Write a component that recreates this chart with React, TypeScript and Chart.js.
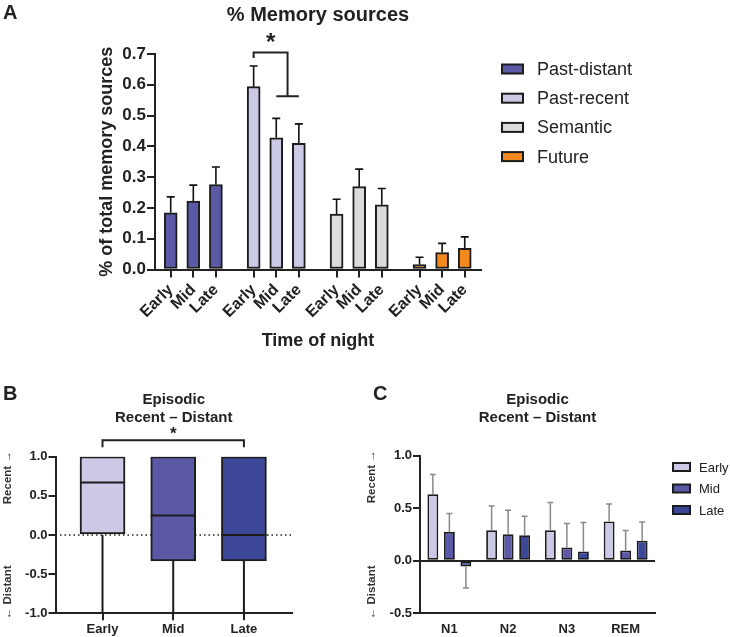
import React, { useEffect, useRef } from 'react';
import { Chart, registerables } from 'chart.js';

Chart.register(...registerables);

const FONT = "'Liberation Sans', Arial, Helvetica, sans-serif";
const INK = '#222222';
const EDGE = '#1c1c1c';

// ---------- Panel A: % Memory sources ----------
const timeLabels = ['Early', 'Mid', 'Late'];
const sourceNames = ['Past-distant', 'Past-recent', 'Semantic', 'Future'];
const pastDistant = [0.184, 0.222, 0.276];
const pastDistantErr = [0.052, 0.052, 0.057];
const pastRecent = [0.594, 0.428, 0.41];
const pastRecentErr = [0.067, 0.063, 0.063];
const semantic = [0.18, 0.269, 0.21];
const semanticErr = [0.048, 0.057, 0.053];
const future = [0.016, 0.055, 0.069];
const futureErr = [0.024, 0.03, 0.037];
const sourceColors = ['#5b58a6', '#ccc9e7', '#dcdcdc', '#f5891f'];
const groupSpacing = 3.67;

// ---------- Panel B: box plot ----------
const boxGroups = ['Early', 'Mid', 'Late'];
const boxMin = [-1, -1, -1];
const boxQ1 = [0, -0.33, -0.33];
const boxMedian = [0.67, 0.25, 0];
const boxQ3 = [1, 1, 1];
const boxMax = [1, 1, 1];
const timeColors = ['#ccc9e7', '#5b58a6', '#3c4797'];

// ---------- Panel C: sleep stages ----------
const stages = ['N1', 'N2', 'N3', 'REM'];
const stageEarly = [0.633, 0.291, 0.291, 0.374];
const stageEarlyErr = [0.187, 0.231, 0.263, 0.167];
const stageMid = [0.275, 0.253, 0.127, 0.098];
const stageMidErr = [0.175, 0.228, 0.228, 0.19];
const stageLate = [-0.055, 0.244, 0.089, 0.19];
const stageLateErr = [0.205, 0.18, 0.275, 0.18];

const font = (size: number, weight: string = 'bold') => ({ family: FONT, size, weight });

function centeredGlyph(ctx: CanvasRenderingContext2D, text: string, cx: number, cy: number, f: string) {
  ctx.save();
  ctx.font = f;
  ctx.fillStyle = INK;
  ctx.textAlign = 'center';
  ctx.textBaseline = 'alphabetic';
  const m = ctx.measureText(text);
  const base = cy + (m.actualBoundingBoxAscent - m.actualBoundingBoxDescent) / 2;
  ctx.fillText(text, cx, base);
  ctx.restore();
}

function letter(ctx: CanvasRenderingContext2D, text: string, x: number, baseline: number) {
  ctx.save();
  ctx.font = `bold 20px ${FONT}`;
  ctx.fillStyle = INK;
  ctx.textAlign = 'left';
  ctx.textBaseline = 'alphabetic';
  ctx.fillText(text, x, baseline);
  ctx.restore();
}

function rotatedText(ctx: CanvasRenderingContext2D, text: string, x: number, y: number, f: string, color: string) {
  ctx.save();
  ctx.translate(x, y);
  ctx.rotate(-Math.PI / 2);
  ctx.font = f;
  ctx.fillStyle = color;
  ctx.textAlign = 'center';
  ctx.textBaseline = 'middle';
  ctx.fillText(text, 0, 0);
  ctx.restore();
}

const errorBarPlugin = {
  id: 'errorBars',
  afterDatasetsDraw(chart: any) {
    const ctx = chart.ctx as CanvasRenderingContext2D;
    const yScale = chart.scales.y;
    chart.data.datasets.forEach((ds: any, di: number) => {
      const errs = ds.errors;
      if (!errs) return;
      const meta = chart.getDatasetMeta(di);
      meta.data.forEach((el: any, i: number) => {
        const raw = ds.data[i];
        const v = typeof raw === 'number' ? raw : raw.y;
        const e = errs[i];
        const end = v >= 0 ? v + e : v - e;
        const py = yScale.getPixelForValue(end);
        const cap = ds.errorCap;
        ctx.save();
        ctx.strokeStyle = ds.errorColor;
        ctx.lineWidth = ds.errorWidth;
        ctx.beginPath();
        ctx.moveTo(el.x, el.y);
        ctx.lineTo(el.x, py);
        ctx.moveTo(el.x - cap / 2, py);
        ctx.lineTo(el.x + cap / 2, py);
        ctx.stroke();
        ctx.restore();
      });
    });
  },
};

function drawLegend(chart: any, x0: number, y0: number, step: number, bw: number, bh: number, textGap: number, f: string) {
  const ctx = chart.ctx as CanvasRenderingContext2D;
  chart.data.datasets.forEach((ds: any, i: number) => {
    const cy = y0 + i * step;
    ctx.save();
    ctx.fillStyle = ds.backgroundColor;
    ctx.fillRect(x0, cy - bh / 2, bw, bh);
    ctx.strokeStyle = EDGE;
    ctx.lineWidth = 2;
    ctx.strokeRect(x0, cy - bh / 2, bw, bh);
    ctx.font = f;
    ctx.fillStyle = INK;
    ctx.textAlign = 'left';
    ctx.textBaseline = 'middle';
    ctx.fillText(ds.label, x0 + bw + textGap, cy + 1);
    ctx.restore();
  });
}

function makeChartA(canvas: HTMLCanvasElement) {
  const series = [pastDistant, pastRecent, semantic, future];
  const errs = [pastDistantErr, pastRecentErr, semanticErr, futureErr];
  const xs: number[] = [];
  const xl: string[] = [];
  sourceNames.forEach((_, g) => timeLabels.forEach((t, ti) => { xs.push(g * groupSpacing + ti); xl.push(t); }));

  const annot = {
    id: 'annotA',
    afterDraw(chart: any) {
      const ctx = chart.ctx as CanvasRenderingContext2D;
      const { x, y } = chart.scales;
      const ca = chart.chartArea;
      letter(ctx, 'A', 3, 18.5);
      const xL = x.getPixelForValue(groupSpacing + 0);
      const xM = x.getPixelForValue(groupSpacing + 1);
      const xR = x.getPixelForValue(groupSpacing + 2);
      const xJ = (xM + xR) / 2;
      const yTop = y.getPixelForValue(0.705);
      const yL = y.getPixelForValue(0.687);
      const yR = y.getPixelForValue(0.563);
      ctx.save();
      ctx.strokeStyle = INK;
      ctx.lineWidth = 2;
      ctx.beginPath();
      ctx.moveTo(xL, yL);
      ctx.lineTo(xL, yTop);
      ctx.lineTo(xJ, yTop);
      ctx.lineTo(xJ, yR);
      ctx.moveTo(xM, yR);
      ctx.lineTo(xR, yR);
      ctx.stroke();
      ctx.restore();
      centeredGlyph(ctx, '*', (xL + xJ) / 2, y.getPixelForValue(0.753), `bold 24px ${FONT}`);
      drawLegend(chart, ca.right + 21, ca.top + 15, 29.2, 21, 9, 14, `18px ${FONT}`);
    },
  };

  return new Chart(canvas, {
    type: 'bar',
    data: {
      datasets: sourceNames.map((name, g) => ({
        label: name,
        data: series[g].map((v, ti) => ({ x: g * groupSpacing + ti, y: v })),
        errors: errs[g],
        errorColor: '#111111',
        errorWidth: 1.6,
        errorCap: 8,
        backgroundColor: sourceColors[g],
        borderColor: EDGE,
        borderWidth: 2,
        borderSkipped: false,
        barThickness: 13,
        grouped: false,
      })) as any,
    },
    options: {
      responsive: false,
      animation: false,
      layout: { padding: { left: 0, right: 249, top: 0, bottom: 0 } },
      plugins: {
        legend: { display: false },
        tooltip: { enabled: false },
        title: {
          display: true,
          text: '% Memory sources',
          fullSize: false,
          color: INK,
          font: font(20) as any,
          padding: { top: 3, bottom: 27 },
        },
      },
      scales: {
        x: {
          type: 'linear',
          offset: false,
          min: -0.695,
          max: 13.73,
          afterBuildTicks: (s: any) => { s.ticks = xs.map((v) => ({ value: v })); },
          afterFit: (s: any) => { s.height = 90.5; },
          grid: { display: true, offset: false, drawOnChartArea: false, drawTicks: true, tickLength: 8, color: INK, lineWidth: 2 },
          border: { display: true, color: INK, width: 2 },
          ticks: {
            autoSkip: false,
            minRotation: 45,
            maxRotation: 45,
            padding: 3,
            color: INK,
            font: font(16) as any,
            callback: (_v: any, i: number) => xl[i],
          },
          title: { display: true, text: 'Time of night', color: INK, font: font(18) as any, padding: { top: 0, bottom: 8 } },
        },
        y: {
          min: 0,
          max: 0.7,
          afterFit: (s: any) => { s.width = 155; },
          grid: { display: true, drawOnChartArea: false, drawTicks: true, tickLength: 8, color: INK, lineWidth: 2 },
          border: { display: true, color: INK, width: 2 },
          ticks: { stepSize: 0.1, padding: 1, color: INK, font: font(17) as any, callback: (v: any) => Number(v).toFixed(1) },
          title: { display: true, text: '% of total memory sources', color: INK, font: font(18) as any, padding: { top: 96, bottom: 0 } },
        },
      },
    },
    plugins: [errorBarPlugin, annot],
  } as any);
}

function sideLabels(ctx: CanvasRenderingContext2D, ca: any, x: number) {
  rotatedText(ctx, 'Recent \u2192', x, ca.top + 21, `bold 11.5px ${FONT}`, '#333333');
  rotatedText(ctx, '\u2190 Distant', x, ca.bottom - 21, `bold 11.5px ${FONT}`, '#333333');
}

function makeChartB(canvas: HTMLCanvasElement) {
  const annot = {
    id: 'annotB',
    beforeDatasetsDraw(chart: any) {
      const ctx = chart.ctx as CanvasRenderingContext2D;
      const ca = chart.chartArea;
      const y0 = chart.scales.y.getPixelForValue(0);
      ctx.save();
      ctx.strokeStyle = INK;
      ctx.lineWidth = 1.5;
      ctx.setLineDash([1.5, 3]);
      ctx.beginPath();
      ctx.moveTo(ca.left, y0);
      ctx.lineTo(ca.right, y0);
      ctx.stroke();
      ctx.restore();
    },
    afterDatasetsDraw(chart: any) {
      const ctx = chart.ctx as CanvasRenderingContext2D;
      const { x, y } = chart.scales;
      const meta = chart.getDatasetMeta(0);
      ctx.save();
      ctx.strokeStyle = EDGE;
      ctx.lineWidth = 2;
      meta.data.forEach((el: any, i: number) => {
        const half = el.width / 2;
        const px = x.getPixelForValue(i);
        ctx.beginPath();
        ctx.moveTo(px - half, y.getPixelForValue(boxMedian[i]));
        ctx.lineTo(px + half, y.getPixelForValue(boxMedian[i]));
        ctx.moveTo(px, y.getPixelForValue(boxQ1[i]));
        ctx.lineTo(px, y.getPixelForValue(boxMin[i]));
        ctx.moveTo(px, y.getPixelForValue(boxQ3[i]));
        ctx.lineTo(px, y.getPixelForValue(boxMax[i]));
        ctx.stroke();
      });
      ctx.restore();
    },
    afterDraw(chart: any) {
      const ctx = chart.ctx as CanvasRenderingContext2D;
      const { x, y } = chart.scales;
      const ca = chart.chartArea;
      letter(ctx, 'B', 3, 40);
      const xa = x.getPixelForValue(0);
      const xb = x.getPixelForValue(2);
      const yTop = y.getPixelForValue(1.21);
      const yLeg = y.getPixelForValue(1.12);
      ctx.save();
      ctx.strokeStyle = INK;
      ctx.lineWidth = 2;
      ctx.beginPath();
      ctx.moveTo(xa, yLeg);
      ctx.lineTo(xa, yTop);
      ctx.lineTo(xb, yTop);
      ctx.lineTo(xb, yLeg);
      ctx.stroke();
      ctx.restore();
      centeredGlyph(ctx, '*', (xa + xb) / 2, y.getPixelForValue(1.34), `bold 17px ${FONT}`);
      sideLabels(ctx, ca, 7.5);
    },
  };

  return new Chart(canvas, {
    type: 'bar',
    data: {
      datasets: [
        {
          label: 'Episodic Recent – Distant',
          data: boxGroups.map((_, i) => ({ x: i, y: [boxQ1[i], boxQ3[i]] })),
          backgroundColor: timeColors,
          borderColor: EDGE,
          borderWidth: 2,
          borderSkipped: false,
          barThickness: 45,
          grouped: false,
        },
      ] as any,
    },
    options: {
      responsive: false,
      animation: false,
      layout: { padding: { left: 0, right: 73, top: 0, bottom: 0 } },
      plugins: {
        legend: { display: false },
        tooltip: { enabled: false },
        title: {
          display: true,
          text: ['Episodic', 'Recent – Distant'],
          fullSize: false,
          color: INK,
          font: font(15) as any,
          padding: { top: 31, bottom: 29.7 },
        },
      },
      scales: {
        x: {
          type: 'linear',
          offset: false,
          min: -0.665,
          max: 2.68,
          afterBuildTicks: (s: any) => { s.ticks = boxGroups.map((_, i) => ({ value: i })); },
          afterFit: (s: any) => { s.height = 23.7; },
          grid: { display: true, offset: false, drawOnChartArea: false, drawTicks: true, tickLength: 7, color: INK, lineWidth: 2 },
          border: { display: true, color: INK, width: 2 },
          ticks: { autoSkip: false, maxRotation: 0, padding: 1, color: INK, font: font(13) as any, callback: (_v: any, i: number) => boxGroups[i] },
        },
        y: {
          min: -1,
          max: 1,
          afterFit: (s: any) => { s.width = 55.5; },
          grid: { display: true, drawOnChartArea: false, drawTicks: true, tickLength: 7, color: INK, lineWidth: 2 },
          border: { display: true, color: INK, width: 2 },
          ticks: { stepSize: 0.5, padding: 1, color: INK, font: font(13) as any, callback: (v: any) => Number(v).toFixed(1) },
        },
      },
    },
    plugins: [annot],
  } as any);
}

function makeChartC(canvas: HTMLCanvasElement) {
  const series = [stageEarly, stageMid, stageLate];
  const errs = [stageEarlyErr, stageMidErr, stageLateErr];
  const annot = {
    id: 'annotC',
    afterDraw(chart: any) {
      const ctx = chart.ctx as CanvasRenderingContext2D;
      const ca = chart.chartArea;
      letter(ctx, 'C', 8, 40);
      sideLabels(ctx, ca, 7);
      drawLegend(chart, ca.right + 18, ca.top + 11.3, 21.5, 17, 8, 9, `13px ${FONT}`);
    },
  };
  return new Chart(canvas, {
    type: 'bar',
    data: {
      labels: stages,
      datasets: timeLabels.map((t, k) => ({
        label: t,
        data: series[k],
        errors: errs[k],
        errorColor: '#8a8a8a',
        errorWidth: 1.5,
        errorCap: 6,
        backgroundColor: timeColors[k],
        borderColor: EDGE,
        borderWidth: 1.8,
        borderSkipped: false,
        categoryPercentage: 0.843,
        barPercentage: 0.66,
      })) as any,
    },
    options: {
      responsive: false,
      animation: false,
      layout: { padding: { left: 0, right: 75, top: 0, bottom: 0 } },
      plugins: {
        legend: { display: false },
        tooltip: { enabled: false },
        title: {
          display: true,
          text: ['Episodic', 'Recent – Distant'],
          fullSize: false,
          color: INK,
          font: font(15) as any,
          padding: { top: 31, bottom: 28.7 },
        },
      },
      scales: {
        x: {
          type: 'category',
          offset: true,
          afterFit: (s: any) => { s.height = 23.7; },
          grid: { display: false, drawTicks: false },
          border: { display: true, color: INK, width: 2 },
          ticks: { autoSkip: false, maxRotation: 0, padding: 8, color: INK, font: font(13) as any },
        },
        y: {
          min: -0.5,
          max: 1,
          afterFit: (s: any) => { s.width = 55; },
          grid: {
            display: true,
            drawOnChartArea: true,
            drawTicks: true,
            tickLength: 7,
            lineWidth: 2,
            tickColor: INK,
            color: (c: any) => (c.tick && c.tick.value === 0 ? INK : 'rgba(0,0,0,0)'),
          },
          border: { display: true, color: INK, width: 2 },
          ticks: { stepSize: 0.5, padding: 1, color: INK, font: font(13) as any, callback: (v: any) => Number(v).toFixed(1) },
        },
      },
    },
    plugins: [errorBarPlugin, annot],
  } as any);
}

export default function App() {
  const refA = useRef<HTMLCanvasElement>(null);
  const refB = useRef<HTMLCanvasElement>(null);
  const refC = useRef<HTMLCanvasElement>(null);

  useEffect(() => {
    const a = makeChartA(refA.current!);
    const b = makeChartB(refB.current!);
    const c = makeChartC(refC.current!);
    return () => { a.destroy(); b.destroy(); c.destroy(); };
  }, []);

  return (
    <div style={{ position: 'absolute', left: 0, top: 0, width: 730, height: 637, background: '#ffffff', overflow: 'hidden' }}>
      <canvas ref={refA} width={730} height={360} style={{ position: 'absolute', left: 0, top: 0, width: 730, height: 360 }} />
      <canvas ref={refB} width={365} height={277} style={{ position: 'absolute', left: 0, top: 360, width: 365, height: 277 }} />
      <canvas ref={refC} width={365} height={277} style={{ position: 'absolute', left: 365, top: 360, width: 365, height: 277 }} />
    </div>
  );
}
